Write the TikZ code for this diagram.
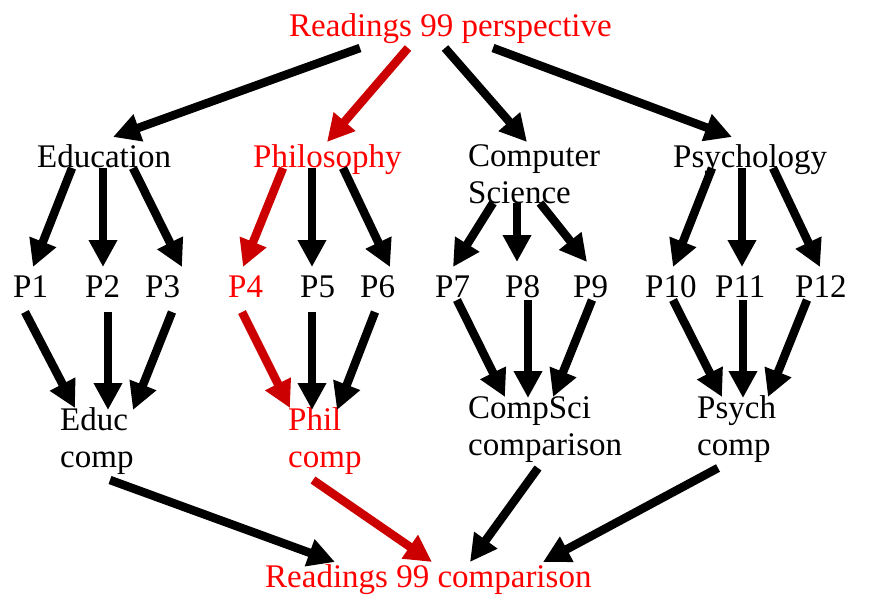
\documentclass[tikz,border=0pt]{standalone}
\usepackage{fontspec}
\setmainfont{Liberation Serif}
\usetikzlibrary{arrows.meta}
\definecolor{txtred}{RGB}{255,0,0}
\definecolor{arrred}{RGB}{204,0,0}
\begin{document}
\begin{tikzpicture}[x=1pt,y=-1pt,
  lbl/.style={anchor=base west,inner sep=0pt,font=\fontsize{33}{37.5}\selectfont,align=left},
  redlbl/.style={lbl,text=txtred},
  arr/.style={line width=8.5pt,-{Triangle[length=27pt,width=27pt]}},
  redarr/.style={arr,draw=arrred}]
\useasboundingbox[fill=white] (0,0) rectangle (872,603);
% nodes (multi-line nodes are placed by the baseline of their last line)
\node[redlbl] (top) at (289,36) {Readings 99 perspective};
\node[lbl] (edu) at (37,167) {Education};
\node[redlbl] (phi) at (253,167) {Philosophy};
\node[lbl] (cs) at (468,203.5) {Computer\\Science};
\node[lbl] (psy) at (673,167) {Psychology};
\node[lbl] (p1) at (13,297) {P1};
\node[lbl] (p2) at (85,297) {P2};
\node[lbl] (p3) at (145,297) {P3};
\node[redlbl] (p4) at (228,297) {P4};
\node[lbl] (p5) at (300,297) {P5};
\node[lbl] (p6) at (360,297) {P6};
\node[lbl] (p7) at (435,297) {P7};
\node[lbl] (p8) at (505,297) {P8};
\node[lbl] (p9) at (573,297) {P9};
\node[lbl] (p10) at (645,297) {P10};
\node[lbl] (p11) at (715,297) {P11};
\node[lbl] (p12) at (795,297) {P12};
\node[lbl] (educ) at (60,467.5) {Educ\\comp};
\node[redlbl] (phil) at (288,467.5) {Phil\\comp};
\node[lbl] (csc) at (468,455.5) {CompSci\\comparison};
\node[lbl] (psyc) at (697,455.5) {Psych\\comp};
\node[redlbl] (bot) at (265,587) {Readings 99 comparison};
% top level
\draw[arr] ([shift={(71,12)}]top.base west) -- ([shift={(76,-30)}]edu.base west);
\draw[redarr] ([shift={(119,12)}]top.base west) -- ([shift={(74,-25)}]phi.base west);
\draw[arr] ([shift={(156,12)}]top.base west) -- ([shift={(59,-61.5)}]cs.base west);
\draw[arr] ([shift={(204,12)}]top.base west) -- ([shift={(59,-30)}]psy.base west);
% disciplines to papers
\draw[arr] ([shift={(35,1)}]edu.base west) -- ([shift={(20,-30)}]p1.base west);
\draw[arr] ([shift={(66,1)}]edu.base west) -- ([shift={(18,-30)}]p2.base west);
\draw[arr] ([shift={(96,1)}]edu.base west) -- ([shift={(37,-30)}]p3.base west);
\draw[redarr] ([shift={(30,1)}]phi.base west) -- ([shift={(15,-30)}]p4.base west);
\draw[arr] ([shift={(59,1)}]phi.base west) -- ([shift={(12,-30)}]p5.base west);
\draw[arr] ([shift={(90,1)}]phi.base west) -- ([shift={(30,-30)}]p6.base west);
\draw[arr] ([shift={(25,-0.5)}]cs.base west) -- ([shift={(18,-30)}]p7.base west);
\draw[arr] ([shift={(49,-0.5)}]cs.base west) -- ([shift={(12,-35)}]p8.base west);
\draw[arr] ([shift={(72,-0.5)}]cs.base west) -- ([shift={(14,-35)}]p9.base west);
\draw[arr] ([shift={(39,1)}]psy.base west) -- ([shift={(28,-30)}]p10.base west);
\draw[arr] ([shift={(69,1)}]psy.base west) -- ([shift={(27,-30)}]p11.base west);
\draw[arr] ([shift={(100,1)}]psy.base west) -- ([shift={(25,-30)}]p12.base west);
% papers to comparisons
\draw[arr] ([shift={(12,15)}]p1.base west) -- ([shift={(15,-59.5)}]educ.base west);
\draw[arr] ([shift={(23,15)}]p2.base west) -- ([shift={(48,-57.5)}]educ.base west);
\draw[arr] ([shift={(27,15)}]p3.base west) -- ([shift={(73,-57.5)}]educ.base west);
\draw[redarr] ([shift={(14,15)}]p4.base west) -- ([shift={(2,-59.5)}]phil.base west);
\draw[arr] ([shift={(12,15)}]p5.base west) -- ([shift={(24,-57.5)}]phil.base west);
\draw[arr] ([shift={(15,15)}]p6.base west) -- ([shift={(49,-57.5)}]phil.base west);
\draw[arr] ([shift={(22,3)}]p7.base west) -- ([shift={(37,-58.5)}]csc.base west);
\draw[arr] ([shift={(23,3)}]p8.base west) -- ([shift={(60,-57.5)}]csc.base west);
\draw[arr] ([shift={(19,3)}]p9.base west) -- ([shift={(85,-58.5)}]csc.base west);
\draw[arr] ([shift={(28,3)}]p10.base west) -- ([shift={(25,-58.5)}]psyc.base west);
\draw[arr] ([shift={(28,3)}]p11.base west) -- ([shift={(46,-57.5)}]psyc.base west);
\draw[arr] ([shift={(12,3)}]p12.base west) -- ([shift={(71,-58.5)}]psyc.base west);
% comparisons to final
\draw[arr] ([shift={(50,12.5)}]educ.base west) -- ([shift={(70,-25)}]bot.base west);
\draw[redarr] ([shift={(25,12.5)}]phil.base west) -- ([shift={(167,-25)}]bot.base west);
\draw[arr] ([shift={(70,12.5)}]csc.base west) -- ([shift={(205,-25)}]bot.base west);
\draw[arr] ([shift={(21,12.5)}]psyc.base west) -- ([shift={(278,-25)}]bot.base west);
\end{tikzpicture}
\end{document}
